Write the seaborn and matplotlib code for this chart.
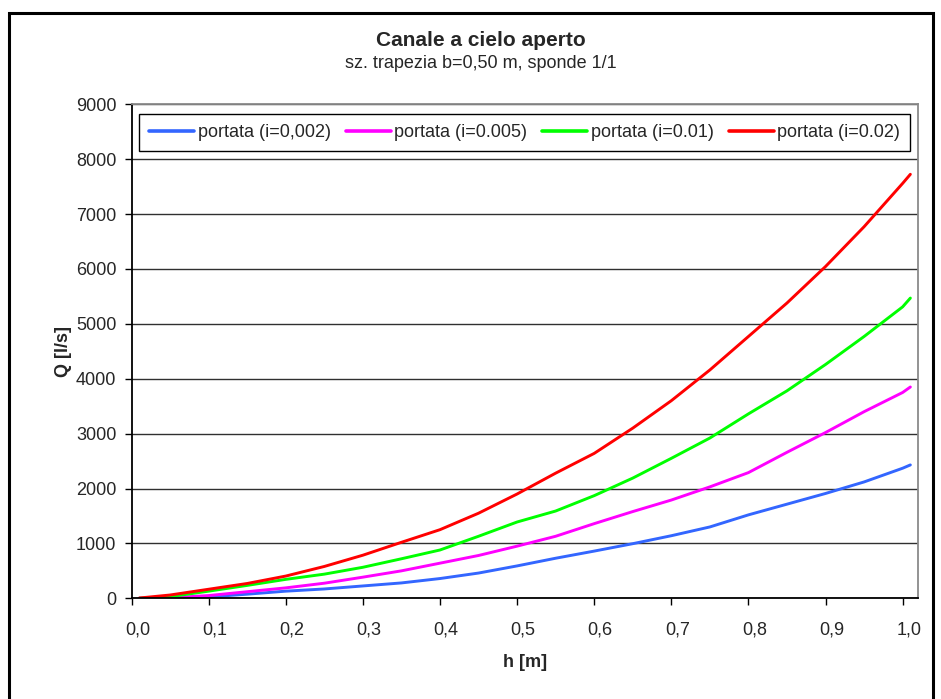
import numpy as np
import pandas as pd
import matplotlib
matplotlib.use("Agg")
import matplotlib.pyplot as plt
import matplotlib.transforms as mtransforms
from matplotlib.patches import Rectangle
import seaborn as sns

# Water depth h [m]
h = [0.01, 0.05, 0.10, 0.15, 0.20, 0.25, 0.30, 0.35, 0.40, 0.45, 0.50,
     0.55, 0.60, 0.65, 0.70, 0.75, 0.80, 0.85, 0.90, 0.95, 1.00, 1.01]

# Discharge Q [l/s] for each bed slope
q_002 = [0, 0, 25, 75, 130, 170, 225, 280, 360, 460, 590,
         730, 860, 995, 1140, 1300, 1520, 1715, 1910, 2120, 2370, 2430]
q_005 = [0, 10, 50, 120, 190, 275, 385, 500, 640, 780, 950,
         1130, 1360, 1580, 1790, 2030, 2290, 2660, 3020, 3400, 3750, 3850]
q_01 = [0, 30, 130, 235, 345, 440, 565, 720, 880, 1130, 1390,
        1590, 1870, 2190, 2550, 2920, 3360, 3780, 4260, 4770, 5310, 5470]
q_02 = [5, 60, 165, 270, 405, 580, 785, 1020, 1250, 1550, 1900,
        2280, 2640, 3100, 3600, 4160, 4770, 5380, 6045, 6770, 7560, 7725]

series_names = ["portata (i=0,002)", "portata (i=0.005)",
                "portata (i=0.01)", "portata (i=0.02)"]
series_colors = ["#3366FF", "#FF00FF", "#00FF00", "#FF0000"]

y_ticks = [0, 1000, 2000, 3000, 4000, 5000, 6000, 7000, 8000, 9000]
x_ticks = [0.0, 0.1, 0.2, 0.3, 0.4, 0.5, 0.6, 0.7, 0.8, 0.9, 1.0]
x_tick_labels = ["0,0", "0,1", "0,2", "0,3", "0,4", "0,5",
                 "0,6", "0,7", "0,8", "0,9", "1,0"]

df = pd.concat(
    [pd.DataFrame({"h": h, "Q": q, "serie": name})
     for name, q in zip(series_names, [q_002, q_005, q_01, q_02])],
    ignore_index=True,
)

sns.set_theme(style="white")
plt.rcParams["font.family"] = ["Liberation Sans", "DejaVu Sans"]

W, H = 941, 699
fig = plt.figure(figsize=(W / 100, H / 100), dpi=100)
fig.patch.set_facecolor("white")

# plot area in pixels: x 131.5..917.7, y 104.3..598.3
left, right, top, bottom = 131.5, 917.7, 104.3, 598.3
ax = fig.add_axes([left / W, 1 - bottom / H, (right - left) / W, (bottom - top) / H])
ax.set_facecolor("white")

sns.lineplot(data=df, x="h", y="Q", hue="serie", hue_order=series_names,
             palette=series_colors, linewidth=2.1, ax=ax, sort=False,
             legend=False)

ax.set_xlim(0, 1.0195)
ax.set_ylim(0, 9000)
ax.set_yticks(y_ticks)
ax.set_yticklabels([str(v) for v in y_ticks])
ax.set_xticks(x_ticks)
ax.set_xticklabels(x_tick_labels)

ax.yaxis.grid(True, color="#303030", linewidth=1.0)
ax.xaxis.grid(False)
ax.set_axisbelow(True)

for side in ("left", "bottom"):
    ax.spines[side].set_color("black")
    ax.spines[side].set_linewidth(1.3)
for side in ("top", "right"):
    ax.spines[side].set_color("#8a8a8a")
    ax.spines[side].set_linewidth(1.3)

ax.tick_params(axis="y", direction="out", length=5, width=1.0, color="black",
               labelsize=13, pad=6, left=True)
ax.tick_params(axis="x", direction="out", length=5, width=1.0, color="black",
               labelsize=13, pad=12, bottom=True)

# x labels sit slightly right of their tick marks
shift = mtransforms.ScaledTranslation(6 / 100, 0, fig.dpi_scale_trans)
for lbl in ax.get_xticklabels():
    lbl.set_transform(lbl.get_transform() + shift)

ax.set_xlabel("h [m]", fontsize=13, fontweight="bold", labelpad=11)
ax.set_ylabel("Q [l/s]", fontsize=13, fontweight="bold", labelpad=3)

handles = [plt.Line2D([], [], color=c, linewidth=2.6) for c in series_colors]
leg = ax.legend(handles, series_names, loc="lower left",
                bbox_to_anchor=(0.0095, 0.9055, 0.981, 0.0668), mode="expand",
                ncol=4, fontsize=13, frameon=True, fancybox=False,
                borderaxespad=0, handlelength=2.5, handletextpad=0.2,
                borderpad=0.55, columnspacing=0.8)
leg.get_frame().set_edgecolor("black")
leg.get_frame().set_linewidth(1.0)
leg.get_frame().set_facecolor("white")
leg.get_frame().set_alpha(1)

fig.text(481 / W, 1 - 40 / H, "Canale a cielo aperto", ha="center", va="center",
         fontsize=15, fontweight="bold")
fig.text(481 / W, 1 - 63 / H, "sz. trapezia b=0,50 m, sponde 1/1", ha="center",
         va="center", fontsize=13)

# chart frame
fig.patches.append(Rectangle((9 / W, -0.05), (933 - 9) / W, 1 - 13 / H + 0.05,
                             transform=fig.transFigure, fill=False,
                             edgecolor="black", linewidth=2.2))

fig.savefig("out.png", dpi=100)
